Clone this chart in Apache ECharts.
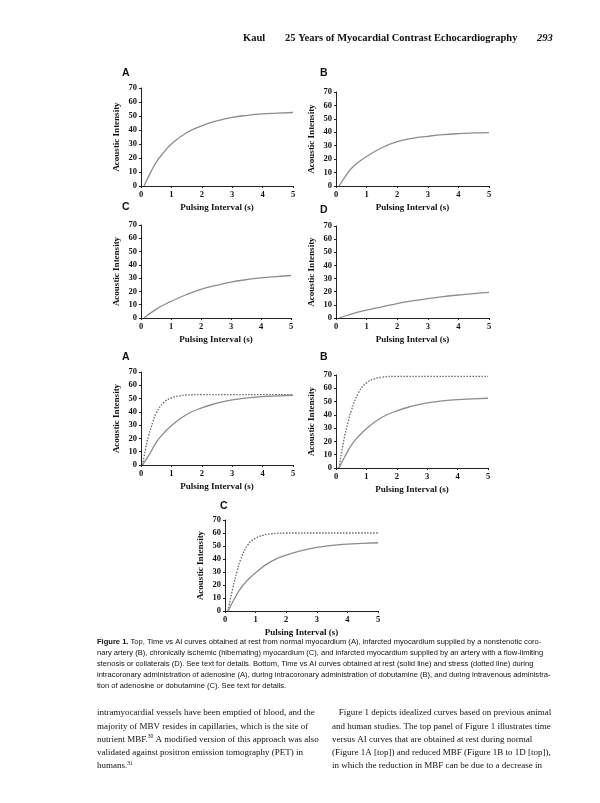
<!DOCTYPE html>
<html>
<head>
<meta charset="utf-8">
<script src="https://cdn.jsdelivr.net/npm/echarts@6/dist/echarts.min.js"></script>
<style>
html,body{margin:0;padding:0;background:#fff;}
#c{width:600px;height:803px;}
</style>
</head>
<body>
<div id="c"></div>
<script>
// ---- data ----
var xTicks = [0, 1, 2, 3, 4, 5];
var yTicks = [0, 10, 20, 30, 40, 50, 60, 70];
var xTitle = 'Pulsing Interval (s)';
var yTitle = 'Acoustic Intensity';

var topA = [[0.1,0],[0.3,9],[0.5,17],[0.75,24],[1,30],[1.5,38],[2,43],[2.5,46.5],[3,49],[3.5,50.5],[4,51.5],[4.5,52],[5,52.5]];
var topB = [[0.1,0],[0.3,7],[0.5,13],[0.75,18],[1,22],[1.5,28.5],[2,33],[2.5,35.5],[3,37],[3.5,38.2],[4,39],[4.5,39.5],[5,39.8]];
var topC = [[0.1,0],[0.5,6.5],[1,12.5],[1.5,17.5],[2,21.5],[2.5,24.5],[3,27],[3.5,28.8],[4,30.2],[4.5,31.2],[5,32]];
var topD = [[0.1,0],[0.5,3],[1,6],[1.5,8.5],[2,11],[2.5,13],[3,14.8],[3.5,16.3],[4,17.5],[4.5,18.6],[5,19.5]];

var botARest = [[0.05,0],[0.3,9],[0.5,17],[0.75,24],[1,29.5],[1.5,38],[2,43],[2.5,46.5],[3,49],[3.5,50.5],[4,51.5],[4.5,52],[5,52.5]];
var botAStress = [[0.05,0],[0.15,12],[0.25,22],[0.4,33],[0.5,39],[0.75,47],[1,50.5],[1.25,52],[1.5,52.7],[2,53],[3,53],[4,53],[5,53]];
var botBRest = [[0.1,0],[0.3,9],[0.5,17],[0.75,24],[1,29.5],[1.5,38],[2,43],[2.5,46.5],[3,49],[3.5,50.5],[4,51.5],[4.5,52],[5,52.5]];
var botBStress = [[0.1,0],[0.25,20],[0.4,35],[0.5,43],[0.75,57],[1,64],[1.25,67],[1.5,68.3],[2,69],[3,69],[4,69],[5,69]];
var botCRest = [[0.1,0],[0.3,9],[0.5,17],[0.75,24],[1,29.5],[1.5,38],[2,43],[2.5,46.5],[3,49],[3.5,50.5],[4,51.5],[4.5,52],[5,52.5]];
var botCStress = [[0.1,0],[0.25,17],[0.4,31],[0.5,39],[0.75,51],[1,56],[1.25,58.3],[1.5,59.3],[2,60],[3,60],[4,60],[5,60]];

var panelLetters = ['A','B','C','D','A','B','C'];

var headerAuthor = 'Kaul';
var headerTitle = '25 Years of Myocardial Contrast Echocardiography';
var headerPage = '293';

var captionLines = [
  'Top, Time vs AI curves obtained at rest from normal myocardium (A), infarcted myocardium supplied by a nonstenotic coro-',
  'nary artery (B), chronically ischemic (hibernating) myocardium (C), and infarcted myocardium supplied by an artery with a flow-limiting',
  'stenosis or collaterals (D). See text for details. Bottom, Time vs AI curves obtained at rest (solid line) and stress (dotted line) during',
  'intracoronary administration of adenosine (A), during intracoronary administration of dobutamine (B), and during intravenous administra-',
  'tion of adenosine or dobutamine (C). See text for details.'
];
var leftCol = [
  'intramyocardial vessels have been emptied of blood, and the',
  'majority of MBV resides in capillaries, which is the site of',
  'nutrient MBF.{s|30} A modified version of this approach was also',
  'validated against positron emission tomography (PET) in',
  'humans.{s|31}'
];
var rightCol = [
  '   Figure 1 depicts idealized curves based on previous animal',
  'and human studies. The top panel of Figure 1 illustrates time',
  'versus AI curves that are obtained at rest during normal',
  '(Figure 1A [top]) and reduced MBF (Figure 1B to 1D [top]),',
  'in which the reduction in MBF can be due to a decrease in'
];

// ---- layout ----
var grids = [
  {left:141, top:88,  width:152, height:98},
  {left:336, top:92,  width:153, height:94},
  {left:141, top:225, width:150, height:93},
  {left:336, top:226, width:153, height:92},
  {left:141, top:372, width:152, height:93},
  {left:336, top:375, width:152, height:93},
  {left:225, top:520, width:153, height:91}
];
var letterPos = [[122,73],[320,73],[122,207],[320,210],[122,357],[320,357],[220,506]];

var serif = '"Liberation Serif","DejaVu Serif",serif';
var sans = '"Liberation Sans","DejaVu Sans",sans-serif';

var xAxes = [], yAxes = [];
grids.forEach(function(g, i){
  xAxes.push({
    type:'value', gridIndex:i, min:xTicks[0], max:xTicks[xTicks.length-1], interval:1,
    name:xTitle, nameLocation:'middle', nameGap:17,
    nameTextStyle:{fontFamily:serif, fontWeight:'bold', fontSize:9, color:'#111'},
    axisLine:{show:true, onZero:false, lineStyle:{color:'#222', width:1}},
    axisTick:{show:true, length:2, lineStyle:{color:'#222'}},
    axisLabel:{fontFamily:serif, fontWeight:'bold', fontSize:8.5, color:'#111', margin:4},
    splitLine:{show:false}
  });
  yAxes.push({
    type:'value', gridIndex:i, min:yTicks[0], max:yTicks[yTicks.length-1], interval:10,
    name:yTitle, nameLocation:'middle', nameGap:20, nameRotate:90,
    nameTextStyle:{fontFamily:serif, fontWeight:'bold', fontSize:9, color:'#111'},
    axisLine:{show:true, onZero:false, lineStyle:{color:'#222', width:1}},
    axisTick:{show:true, length:2, lineStyle:{color:'#222'}},
    axisLabel:{fontFamily:serif, fontWeight:'bold', fontSize:8.5, color:'#111', margin:4},
    splitLine:{show:false}
  });
});

function solid(data, i){
  return {type:'line', xAxisIndex:i, yAxisIndex:i, data:data, smooth:0.5, showSymbol:false,
    lineStyle:{color:'#8c8c8c', width:1.3}, silent:true, animation:false};
}
function dotted(data, i){
  return {type:'line', xAxisIndex:i, yAxisIndex:i, data:data, smooth:0.5, showSymbol:false,
    lineStyle:{color:'#666', width:1.3, type:[1.5,1.5]}, silent:true, animation:false};
}

var series = [
  solid(topA,0), solid(topB,1), solid(topC,2), solid(topD,3),
  dotted(botAStress,4), solid(botARest,4),
  dotted(botBStress,5), solid(botBRest,5),
  dotted(botCStress,6), solid(botCRest,6)
];

var graphics = [];
function txt(x, y, text, font, extra){
  var st = {text:text, font:font, fill:'#111', textAlign:'left', textVerticalAlign:'middle'};
  if (extra) for (var k in extra) st[k] = extra[k];
  graphics.push({type:'text', x:x, y:y, silent:true, style:st});
}
// header
txt(243, 38, headerAuthor, 'bold 10.5px ' + serif);
txt(285, 38, headerTitle, 'bold 10.5px ' + serif);
txt(537, 38, headerPage, 'italic bold 10.5px ' + serif);
// panel letters
letterPos.forEach(function(p, i){ txt(p[0], p[1], panelLetters[i], 'bold 10.5px ' + sans); });
// caption
captionLines.forEach(function(l, i){
  var t = (i === 0 ? '{b|Figure 1.} ' : '') + l;
  txt(97, 642 + i*11, t, '7.55px ' + sans, {rich:{b:{fontWeight:'bold', fontFamily:sans, fontSize:7.55, fill:'#111'}}});
});
// body columns
var supRich = {s:{fontSize:5.5, fontFamily:serif, verticalAlign:'top', padding:[0,0,5,0]}};
leftCol.forEach(function(l, i){ txt(97, 713 + i*13.2, l, '9px ' + serif, {rich:supRich}); });
rightCol.forEach(function(l, i){ txt(332, 713 + i*13.2, l, '9px ' + serif, {rich:supRich}); });

var chart = echarts.init(document.getElementById('c'), null, {renderer:'canvas'});
chart.setOption({
  backgroundColor:'#fff',
  animation:false,
  grid:grids.map(function(g){ return {left:g.left, top:g.top, width:g.width, height:g.height, containLabel:false}; }),
  xAxis:xAxes,
  yAxis:yAxes,
  series:series,
  graphic:graphics
});
</script>
</body>
</html>
